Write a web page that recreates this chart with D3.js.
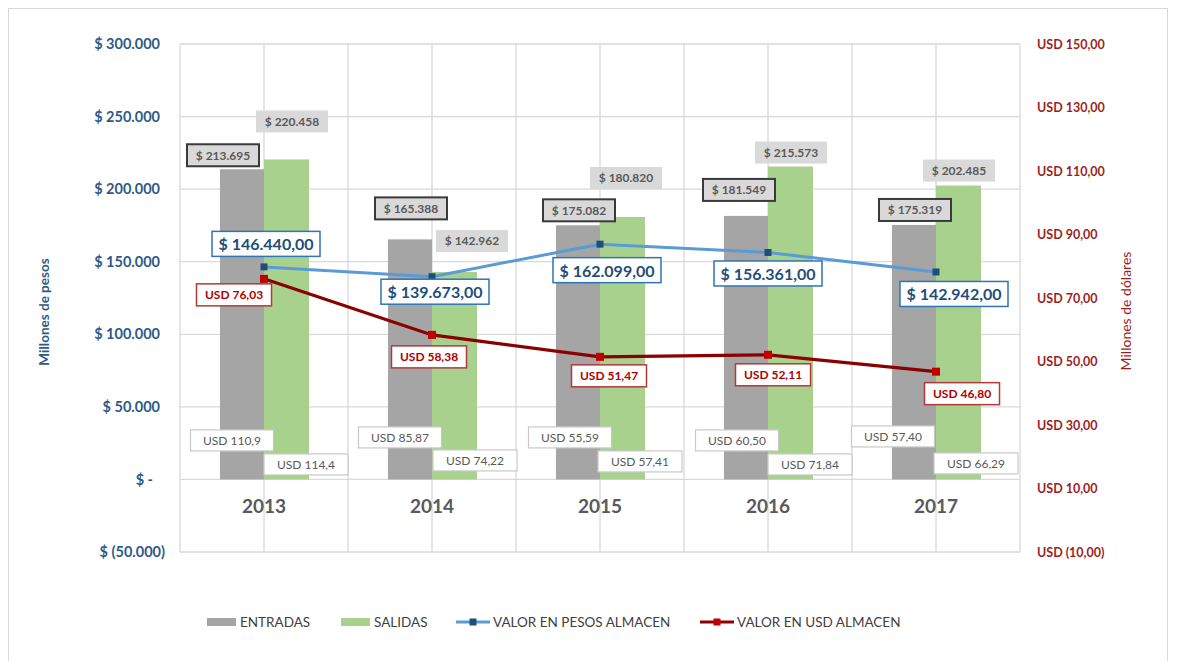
<!DOCTYPE html>
<html>
<head>
<meta charset="utf-8">
<script src="https://cdn.jsdelivr.net/npm/d3@7"></script>
<style>
  body { margin: 0; background: #fff; }
  text { font-family: Lato, "Open Sans", sans-serif; }
</style>
</head>
<body>
<div id="chart"></div>
<script>
// data
const years = ['2013', '2014', '2015', '2016', '2017'];
const entradas = [213695, 165388, 175082, 181549, 175319];
const salidas = [220458, 142962, 180820, 215573, 202485];
const valorPesos = [146440, 139673, 162099, 156361, 142942];
const valorUsd = [76.03, 58.38, 51.47, 52.11, 46.80];
const entradasUsd = ['USD 110,9', 'USD 85,87', 'USD 55,59', 'USD 60,50', 'USD 57,40'];
const salidasUsd = ['USD 114,4', 'USD 74,22', 'USD 57,41', 'USD 71,84', 'USD 66,29'];

const pesoTicks = [-50000, 0, 50000, 100000, 150000, 200000, 250000, 300000];
const pesoTickLabels = ['$ (50.000)', '$ -', '$ 50.000', '$ 100.000', '$ 150.000', '$ 200.000', '$ 250.000', '$ 300.000'];
const usdTicks = [-10, 10, 30, 50, 70, 90, 110, 130, 150];
const usdTickLabels = ['USD (10,00)', 'USD 10,00', 'USD 30,00', 'USD 50,00', 'USD 70,00', 'USD 90,00', 'USD 110,00', 'USD 130,00', 'USD 150,00'];

// label nudges (dx, dy) from their anchor, as placed by hand in the original
const entLabelNudge = [[-19, -14], [1, -31], [1, -15], [-7, -26], [1, -15]];
const salLabelNudge = [[6, -38], [18, -31], [4, -39], [1, -14], [1, -15]];
const pesosLabelNudge = [[2, -23], [3, 15], [7, 26], [0, 21], [18, 22]];
const usdLabelNudge = [[-30, 16], [-3, 22], [9, 19], [5, 20], [26, 22]];
const entUsdNudge = [[-32, -39], [-32, -42], [-30, -42], [-31, -39], [-43, -43]];
const salUsdNudge = [[42, -15], [43, -19], [40, -18], [42, -15], [40, -16]];

let width = 1177;
let height = 661;
let margin = { top: 44, bottom: 109, left: 180, right: 157 };

let svg = d3.select('#chart')
    .append('svg')
    .attr('width', width)
    .attr('height', height);

// outer frame
svg.append('rect')
    .attr('x', 8.5).attr('y', 8.5)
    .attr('width', 1159).attr('height', 670)
    .attr('fill', 'none')
    .attr('stroke', '#d9d9d9');

let x = d3.scaleBand()
    .domain(years)
    .range([margin.left, width - margin.right]);

let yL = d3.scaleLinear()
    .domain([-50000, 300000])
    .range([height - margin.bottom, margin.top]);

let yR = d3.scaleLinear()
    .domain([-10, 150])
    .range([height - margin.bottom, margin.top]);

const cx = d => x(d) + x.bandwidth() / 2;
const barW = 44;

// gridlines
const grid = svg.append('g').attr('stroke', '#d9d9d9').attr('stroke-width', 1.3);
pesoTicks.forEach(t => {
  grid.append('line')
      .attr('x1', margin.left).attr('x2', width - margin.right)
      .attr('y1', yL(t)).attr('y2', yL(t));
});
const vLines = [];
years.forEach(yr => { vLines.push(x(yr)); vLines.push(cx(yr)); });
vLines.push(x(years[years.length - 1]) + x.bandwidth());
vLines.forEach(v => {
  grid.append('line')
      .attr('x1', v).attr('x2', v)
      .attr('y1', margin.top).attr('y2', height - margin.bottom);
});

// left axis
const axL = svg.append('g')
    .attr('transform', `translate(${margin.left - 20}, 0)`)
    .call(d3.axisLeft(yL).tickValues(pesoTicks).tickSize(0).tickPadding(0)
        .tickFormat((d, i) => pesoTickLabels[i]));
axL.select('.domain').remove();
axL.selectAll('text')
    .attr('fill', '#2e5a87')
    .style('font-size', '14.5px')
    .style('font-weight', 'bold')
    .attr('dx', d => d < 0 ? 5 : (d === 0 ? -7 : 0));

// right axis
const axR = svg.append('g')
    .attr('transform', `translate(${width - margin.right + 17}, 0)`)
    .call(d3.axisRight(yR).tickValues(usdTicks).tickSize(0).tickPadding(0)
        .tickFormat((d, i) => usdTickLabels[i]));
axR.select('.domain').remove();
axR.selectAll('text')
    .attr('fill', '#9c1f1f')
    .style('font-size', '12.5px')
    .style('font-weight', 'bold');

// axis titles
svg.append('text')
    .attr('transform', 'translate(49, 312) rotate(-90)')
    .attr('text-anchor', 'middle')
    .attr('fill', '#2e5a87')
    .style('font-size', '13.5px')
    .style('font-weight', 'bold')
    .text('Millones de pesos');

svg.append('text')
    .attr('transform', 'translate(1131, 311) rotate(-90)')
    .attr('text-anchor', 'middle')
    .attr('fill', '#9c1f1f')
    .style('font-size', '14px')
    .text('Millones de dólares');

// year labels
years.forEach(yr => {
  svg.append('text')
      .attr('x', cx(yr))
      .attr('y', yL(0) + 34)
      .attr('text-anchor', 'middle')
      .attr('fill', '#595959')
      .style('font-size', '19px')
      .style('font-weight', 'bold')
      .text(yr);
});

// bars
svg.selectAll('.ent')
    .data(entradas)
    .enter().append('rect')
    .attr('x', (d, i) => cx(years[i]) - barW)
    .attr('y', d => yL(d))
    .attr('width', barW)
    .attr('height', d => yL(0) - yL(d))
    .attr('fill', '#a5a5a5');

svg.selectAll('.sal')
    .data(salidas)
    .enter().append('rect')
    .attr('x', (d, i) => cx(years[i]))
    .attr('y', d => yL(d))
    .attr('width', barW + 1)
    .attr('height', d => yL(0) - yL(d))
    .attr('fill', '#a9d18e');

// lines
svg.append('path')
    .datum(valorPesos)
    .attr('fill', 'none')
    .attr('stroke', '#5b9bd5')
    .attr('stroke-width', 3)
    .attr('d', d3.line().x((d, i) => cx(years[i])).y(d => yL(d)));

svg.append('path')
    .datum(valorUsd)
    .attr('fill', 'none')
    .attr('stroke', '#8b0000')
    .attr('stroke-width', 3.2)
    .attr('d', d3.line().x((d, i) => cx(years[i])).y(d => yR(d)));

valorPesos.forEach((v, i) => {
  svg.append('rect')
      .attr('x', cx(years[i]) - 3.5).attr('y', yL(v) - 3.5)
      .attr('width', 7).attr('height', 7)
      .attr('fill', '#1f4e79');
});
valorUsd.forEach((v, i) => {
  svg.append('rect')
      .attr('x', cx(years[i]) - 4).attr('y', yR(v) - 4)
      .attr('width', 8).attr('height', 8)
      .attr('fill', '#c00000');
});

// boxed label helper
function boxLabel(px, py, txt, st) {
  const g = svg.append('g');
  const r = g.append('rect');
  const t = g.append('text')
      .attr('x', px).attr('y', py)
      .attr('text-anchor', 'middle')
      .attr('dominant-baseline', 'central')
      .attr('fill', st.color)
      .style('font-size', st.size + 'px')
      .style('font-weight', st.weight)
      .text(txt);
  const w = st.w || t.node().getComputedTextLength() + st.pad * 2;
  r.attr('x', px - w / 2).attr('y', py - st.h / 2)
      .attr('width', w).attr('height', st.h)
      .attr('fill', st.fill)
      .attr('stroke', st.stroke)
      .attr('stroke-width', st.sw);
}

const fmtPeso = d3.formatLocale({ decimal: ',', thousands: '.', grouping: [3], currency: ['$ ', ''] });

entradas.forEach((v, i) => {
  const n = entLabelNudge[i];
  boxLabel(cx(years[i]) - barW / 2 + n[0], yL(v) + n[1], '$ ' + fmtPeso.format(',d')(v),
    { color: '#595959', size: 12, weight: 'bold', w: 72, h: 22, fill: '#d9d9d9', stroke: '#3a3a3a', sw: 2 });
});
salidas.forEach((v, i) => {
  const n = salLabelNudge[i];
  boxLabel(cx(years[i]) + barW / 2 + n[0], yL(v) + n[1], '$ ' + fmtPeso.format(',d')(v),
    { color: '#595959', size: 12, weight: 'bold', w: 72, h: 22, fill: '#d9d9d9', stroke: 'none', sw: 0 });
});
valorPesos.forEach((v, i) => {
  const n = pesosLabelNudge[i];
  boxLabel(cx(years[i]) + n[0], yL(v) + n[1], '$ ' + fmtPeso.format(',.2f')(v),
    { color: '#1f4e79', size: 16, weight: 'bold', w: 108, h: 25, fill: '#fff', stroke: '#2e75b6', sw: 1.5 });
});
valorUsd.forEach((v, i) => {
  const n = usdLabelNudge[i];
  boxLabel(cx(years[i]) + n[0], yR(v) + n[1], 'USD ' + fmtPeso.format('.2f')(v),
    { color: '#b00000', size: 12, weight: 'bold', w: 75, h: 22, fill: '#fff', stroke: '#b03a3a', sw: 1.5 });
});
entradasUsd.forEach((s, i) => {
  const n = entUsdNudge[i];
  boxLabel(cx(years[i]) + n[0], yL(0) + n[1], s,
    { color: '#595959', size: 12, weight: 'normal', w: 83, h: 21, fill: '#fff', stroke: '#c8c8c8', sw: 1.2 });
});
salidasUsd.forEach((s, i) => {
  const n = salUsdNudge[i];
  boxLabel(cx(years[i]) + n[0], yL(0) + n[1], s,
    { color: '#595959', size: 12, weight: 'normal', w: 84, h: 21, fill: '#fff', stroke: '#c8c8c8', sw: 1.2 });
});

// legend
const legend = svg.append('g').attr('transform', 'translate(0, 622)');
const legItems = [
  { name: 'ENTRADAS', kind: 'bar', color: '#a5a5a5', x: 207 },
  { name: 'SALIDAS', kind: 'bar', color: '#a9d18e', x: 341 },
  { name: 'VALOR EN PESOS ALMACEN', kind: 'line', color: '#5b9bd5', mark: '#1f4e79', x: 456 },
  { name: 'VALOR EN USD ALMACEN', kind: 'line', color: '#8b0000', mark: '#c00000', x: 700 }
];
legItems.forEach(it => {
  if (it.kind === 'bar') {
    legend.append('rect')
        .attr('x', it.x).attr('y', -4)
        .attr('width', 29).attr('height', 8)
        .attr('fill', it.color);
  } else {
    legend.append('line')
        .attr('x1', it.x).attr('x2', it.x + 34)
        .attr('y1', 0).attr('y2', 0)
        .attr('stroke', it.color).attr('stroke-width', 3);
    legend.append('rect')
        .attr('x', it.x + 17 - 3.5).attr('y', -3.5)
        .attr('width', 7).attr('height', 7)
        .attr('fill', it.mark);
  }
  legend.append('text')
      .attr('x', it.x + (it.kind === 'bar' ? 33 : 37))
      .attr('y', 0)
      .attr('dominant-baseline', 'central')
      .attr('fill', '#404040')
      .style('font-size', '13.5px')
      .text(it.name);
});
</script>
</body>
</html>
